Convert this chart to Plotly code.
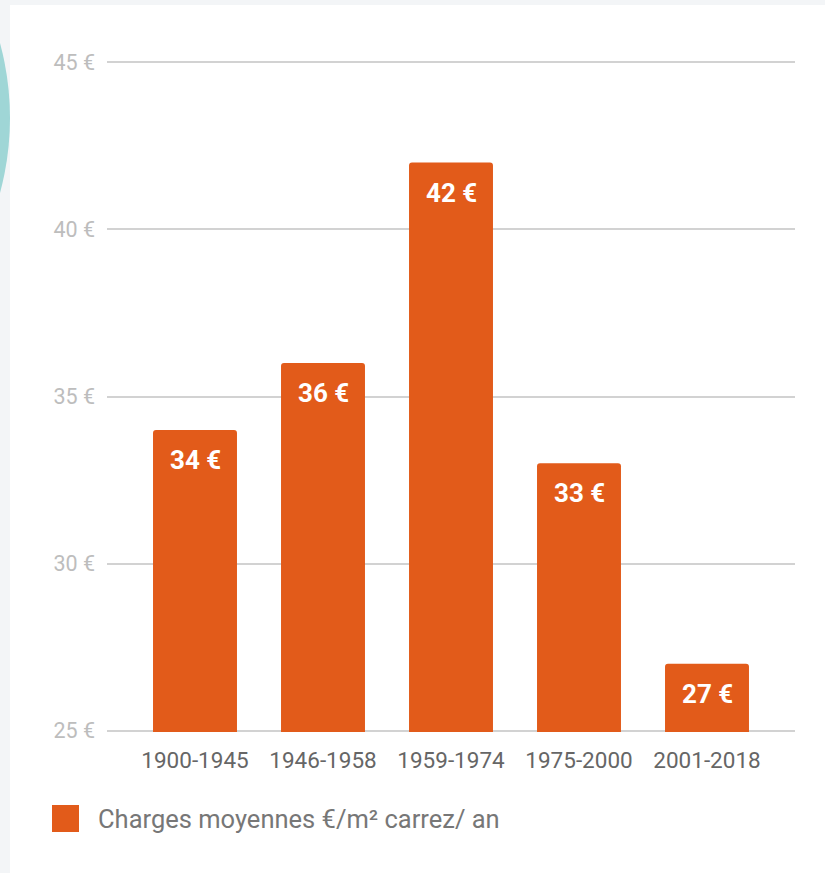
import plotly.graph_objects as go

# Average yearly service charges per m² by construction period
periods = ["1900-1945", "1946-1958", "1959-1974", "1975-2000", "2001-2018"]
charges = [34, 36, 42, 33, 27]
y_ticks = [25, 30, 35, 40, 45]
y_tick_text = [f"{t} €" for t in y_ticks]
series_name = "Charges moyennes €/m² carrez/ an"

BAR_COLOR = "#e25b1a"
W, H = 825, 873
M_L, M_R, M_T, M_B = 107, 30, 61, 141
PW = W - M_L - M_R
PH = H - M_T - M_B


def px_x(px):
    return (px - M_L) / PW


def px_y(py):
    return (H - M_B - py) / PH


fig = go.Figure()
fig.add_trace(go.Bar(
    x=list(range(len(periods))),
    y=charges,
    width=0.656,
    marker=dict(color=BAR_COLOR, line=dict(width=0)),
    showlegend=False,
    hoverinfo="skip",
))

# value labels near the top of each bar
for i, v in enumerate(charges):
    fig.add_annotation(
        x=i, y=v, xref="x", yref="y",
        text=f"{v} €", showarrow=False,
        yanchor="middle", yshift=-30,
        font=dict(family="Roboto", size=26, color="white", weight="bold"),
    )

shapes = [
    # page card
    dict(type="rect", xref="paper", yref="paper",
         x0=px_x(10), x1=px_x(W + 5), y0=px_y(H + 5), y1=px_y(5),
         fillcolor="white", line=dict(width=0), layer="below"),
    # teal disc peeking at the left edge
    dict(type="circle", xref="paper", yref="paper",
         x0=px_x(-562), x1=px_x(10), y0=px_y(118 + 286), y1=px_y(118 - 286),
         fillcolor="#9fd6d6", line=dict(width=0), layer="below"),
    # legend swatch
    dict(type="rect", xref="paper", yref="paper",
         x0=px_x(52), x1=px_x(79), y0=px_y(832), y1=px_y(805),
         fillcolor=BAR_COLOR, line=dict(width=0)),
]
fig.add_annotation(
    x=px_x(96), y=px_y(819), xref="paper", yref="paper",
    text=series_name, showarrow=False, xanchor="left", yanchor="middle",
    font=dict(family="Roboto", size=25.5, color="#777777"),
)

fig.update_layout(
    width=W, height=H,
    margin=dict(l=M_L, r=M_R, t=M_T, b=M_B, pad=0),
    paper_bgcolor="#f3f5f7",
    plot_bgcolor="rgba(0,0,0,0)",
    barcornerradius=3,
    shapes=shapes,
    font=dict(family="Roboto"),
    xaxis=dict(
        range=[-0.6875, 4.6875],
        tickmode="array", tickvals=list(range(len(periods))), ticktext=periods,
        showgrid=False, zeroline=False, showline=False, ticks="",
        ticklabelstandoff=12,
        tickfont=dict(family="Roboto", size=22.5, color="#666666"),
        fixedrange=True,
    ),
    yaxis=dict(
        range=[24.96, 45.04],
        tickmode="array", tickvals=y_ticks, ticktext=y_tick_text,
        showgrid=True, gridcolor="#d2d2d2", gridwidth=1.5,
        zeroline=False, showline=False, ticks="",
        ticklabelstandoff=11,
        tickfont=dict(family="Roboto", size=21.5, color="#bdbdbd"),
        fixedrange=True,
    ),
)

fig.write_html("out.html")
